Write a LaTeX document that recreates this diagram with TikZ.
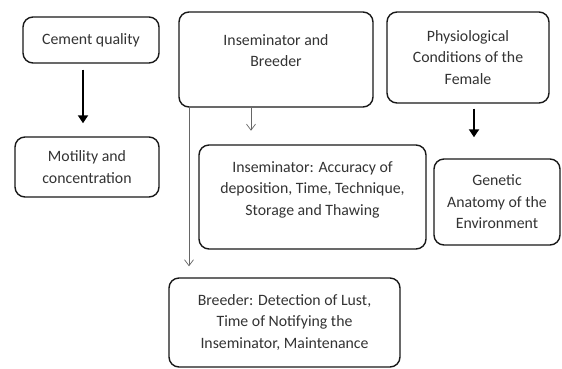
\documentclass[tikz,border=0pt]{standalone}
\usepackage{fontspec}
\setmainfont{Carlito}
\usepackage{xcolor}
\usepackage{tikz}
\usetikzlibrary{arrows.meta}

\begin{document}
\begin{tikzpicture}[x=1pt,y=-1pt,
    factor/.style={draw=black!90, line width=1.4pt, rounded corners=10pt, align=center,
        text=black!80, font=\fontsize{15.8}{21.5}\selectfont, inner sep=2pt},
    boldarrow/.style={line width=2.6pt, -{Triangle[width=10pt,length=8pt]}},
    thinarrow/.style={draw=black!60, line width=0.7pt, -{Straight Barb[width=9pt,length=6pt]}}]
    \fill[white] (0,0) rectangle (562,368);
    \useasboundingbox (0,0) rectangle (562,368);

    \node[factor, minimum width=136pt, minimum height=46pt] (cement) at (91,40) {Cement quality};
    \node[factor, minimum width=144pt, minimum height=60pt] (motility) at (87,167) {Motility and\\concentration};
    \draw[boldarrow, shorten <=6pt, shorten >=13pt] ([xshift=-8pt]cement.south) -- ([xshift=-8pt]cement.south |- motility.north);

    \node[factor, minimum width=194pt, minimum height=95pt, text depth=18pt] (insbreed) at (276,59.5) {Inseminator and\\Breeder};
    \node[factor, minimum width=227pt, minimum height=104pt, text depth=17pt] (insacc) at (312.5,197) {Inseminator: Accuracy of\\deposition, Time, Technique,\\Storage and Thawing};
    \node[factor, minimum width=231pt, minimum height=89pt] (breeder) at (284.5,322.5) {Breeder: Detection of Lust,\\Time of Notifying the\\Inseminator, Maintenance};
    \draw[thinarrow] ([xshift=-25pt]insbreed.south) -- ++(0,23);
    \draw[thinarrow, shorten >=11pt] ([xshift=-87pt]insbreed.south) -- ([xshift=-87pt]insbreed.south |- breeder.north);

    \node[factor, minimum width=162pt, minimum height=91pt] (physio) at (468,57.5) {Physiological\\Conditions of the\\Female};
    \node[factor, minimum width=126pt, minimum height=86pt] (genetic) at (497,202) {Genetic\\Anatomy of the\\Environment};
    \draw[boldarrow, shorten <=5pt, shorten >=21pt] ([xshift=6pt]physio.south) -- ([xshift=6pt]physio.south |- genetic.north);
\end{tikzpicture}
\end{document}
